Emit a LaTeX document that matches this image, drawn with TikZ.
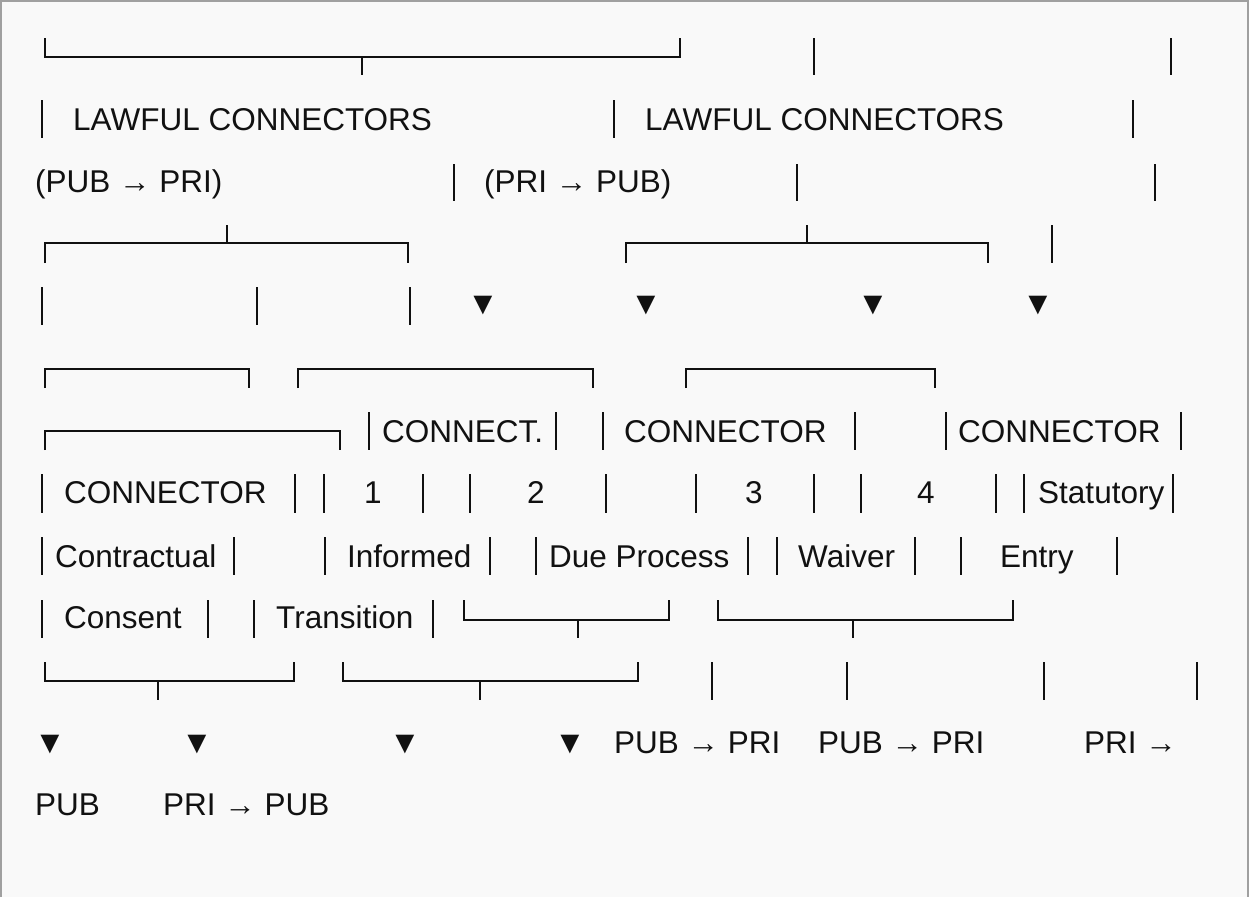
\documentclass[tikz,border=0pt]{standalone}
\usepackage{fontspec}
\setmainfont{Liberation Sans}
\definecolor{pagebg}{HTML}{F9F9F9}
\definecolor{framegray}{HTML}{A0A0A0}
\definecolor{ink}{HTML}{111111}
\begin{document}
\begin{tikzpicture}[x=1pt,y=-1pt,
  rule/.style={line width=1.8pt, ink},
  lbl/.style={anchor=base west, inner sep=0pt, text=ink, font=\fontsize{31.5}{36}\selectfont},
  tri/.style={anchor=center, inner sep=0pt, text=ink, font=\fontsize{32}{36}\selectfont}]
\useasboundingbox (0,0) rectangle (1249,897);
\fill[pagebg] (0,0) rectangle (1249,897);
\draw[framegray, line width=2pt] (1,897) -- (1,1) -- (1248,1) -- (1248,897);

% row 1
\draw[rule] (45,38) |- (680,57) -- (680,38);
\draw[rule] (362,57) -- (362,75);
\foreach \x in {814,1171} \draw[rule] (\x,38) -- (\x,75);

% row 2
\foreach \x in {42,614,1133} \draw[rule] (\x,100) -- (\x,138);
\node[lbl] (lawA) at (73,130) {LAWFUL CONNECTORS};
\node[lbl] (lawB) at (645,130) {LAWFUL CONNECTORS};

% row 3
\foreach \x in {454,797,1155} \draw[rule] (\x,164) -- (\x,201);
\node[lbl] (dirA) at (35,192) {(PUB → PRI)};
\node[lbl] (dirB) at (484,192) {(PRI → PUB)};

% row 4
\draw[rule] (45,263) |- (408,243) -- (408,263);
\draw[rule] (227,225) -- (227,243);
\draw[rule] (626,263) |- (988,243) -- (988,263);
\draw[rule] (807,225) -- (807,243);
\draw[rule] (1052,225) -- (1052,263);

% row 5
\foreach \x in {42,257,410} \draw[rule] (\x,287) -- (\x,325);
\node[tri] (t1) at (483,306) {▼};
\node[tri] (t2) at (646,306) {▼};
\node[tri] (t3) at (873,306) {▼};
\node[tri] (t4) at (1038,306) {▼};

% row 6
\draw[rule] (45,388) |- (249,369) -- (249,388);
\draw[rule] (298,388) |- (593,369) -- (593,388);
\draw[rule] (686,388) |- (935,369) -- (935,388);

% row 7
\draw[rule] (45,450) |- (340,431) -- (340,450);
\foreach \x in {369,556,603,855,946,1181} \draw[rule] (\x,412) -- (\x,450);
\node[lbl] (c1a) at (382,442) {CONNECT.};
\node[lbl] (c3a) at (624,442) {CONNECTOR};
\node[lbl] (c4a) at (958,442) {CONNECTOR};

% row 8
\foreach \x in {42,295,324,423,470,606,696,814,861,996,1024,1173} \draw[rule] (\x,474) -- (\x,513);
\node[lbl] (c0) at (64,503) {CONNECTOR};
\node[lbl] (n1) at (364,503) {1};
\node[lbl] (n2) at (527,503) {2};
\node[lbl] (n3) at (745,503) {3};
\node[lbl] (n4) at (917,503) {4};
\node[lbl] (stat) at (1038,503) {Statutory};

% row 9
\foreach \x in {42,234,325,490,536,748,777,915,961,1117} \draw[rule] (\x,537) -- (\x,575);
\node[lbl] (contr) at (55,567) {Contractual};
\node[lbl] (inf) at (347,567) {Informed};
\node[lbl] (due) at (549,567) {Due Process};
\node[lbl] (waiv) at (798,567) {Waiver};
\node[lbl] (entry) at (1000,567) {Entry};

% row 10
\foreach \x in {42,208,254,433} \draw[rule] (\x,600) -- (\x,638);
\node[lbl] (cons) at (64,628) {Consent};
\node[lbl] (trans) at (276,628) {Transition};
\draw[rule] (464,600) |- (669,620) -- (669,600);
\draw[rule] (578,620) -- (578,638);
\draw[rule] (718,600) |- (1013,620) -- (1013,600);
\draw[rule] (853,620) -- (853,638);

% row 11
\draw[rule] (45,662) |- (294,681) -- (294,662);
\draw[rule] (158,681) -- (158,700);
\draw[rule] (343,662) |- (638,681) -- (638,662);
\draw[rule] (480,681) -- (480,700);
\foreach \x in {712,847,1044,1197} \draw[rule] (\x,662) -- (\x,700);

% row 12
\node[tri] (b1) at (50,745) {▼};
\node[tri] (b2) at (197,745) {▼};
\node[tri] (b3) at (405,745) {▼};
\node[tri] (b4) at (570,745) {▼};
\node[lbl] (o1) at (614,753) {PUB → PRI};
\node[lbl] (o2) at (818,753) {PUB → PRI};
\node[lbl] (o3) at (1084,753) {PRI →};

% row 13
\node[lbl] (o3b) at (35,815) {PUB};
\node[lbl] (o4) at (163,815) {PRI → PUB};
\end{tikzpicture}
\end{document}
